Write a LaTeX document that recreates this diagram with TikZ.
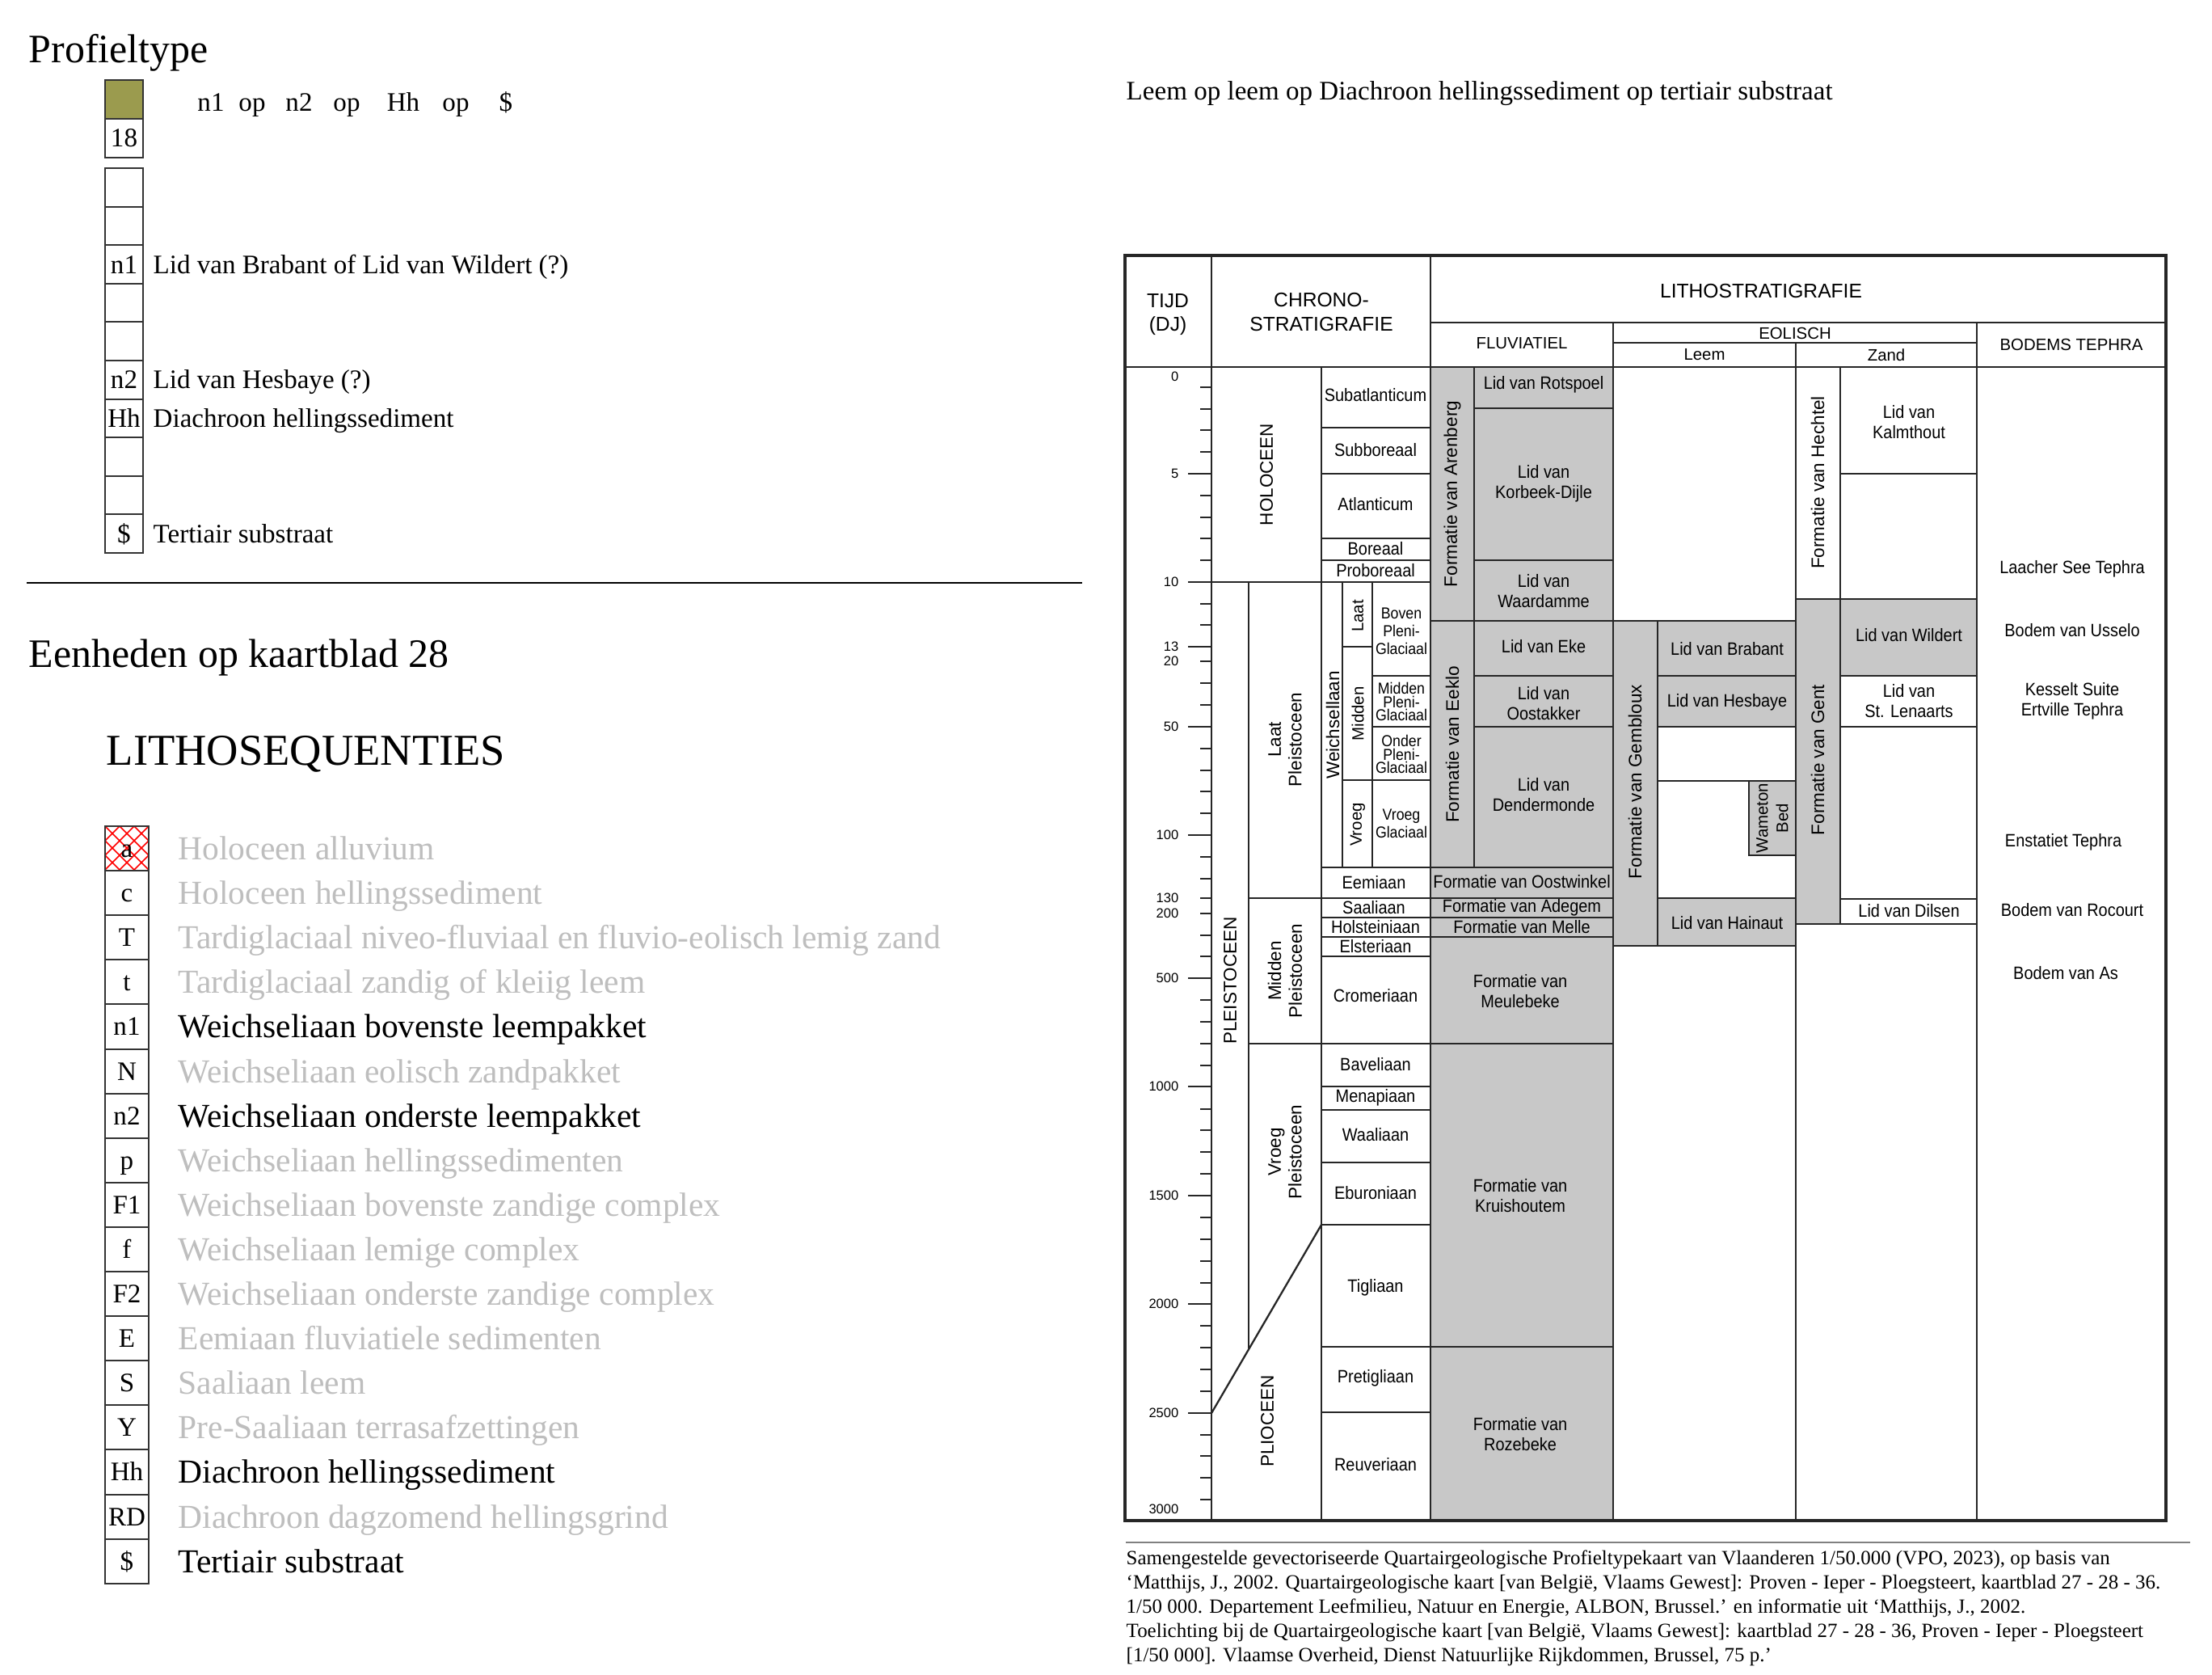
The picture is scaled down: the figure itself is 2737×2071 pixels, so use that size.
\documentclass[tikz,border=0pt]{standalone}
\usepackage{fontspec}
\setmainfont{Liberation Serif}
\newfontfamily\chartfont{Liberation Sans}
\newfontfamily\narrowfont[FakeStretch=0.9]{Liberation Sans}
\usepackage{tikz}
\usetikzlibrary{positioning}

\definecolor{olivebox}{RGB}{155,155,78}
\definecolor{unitgray}{RGB}{200,200,200}
\definecolor{faded}{RGB}{190,190,190}

\begin{document}
\begin{tikzpicture}[x=0.01cm, y=-0.01cm,
  every node/.style={inner sep=0pt},
  heading/.style={font=\fontsize{14.2}{17}\selectfont, anchor=base west},
  legtext/.style={font=\fontsize{9.4}{11}\selectfont, anchor=base west},
  legcode/.style={font=\fontsize{9.4}{11}\selectfont, anchor=base},
  unitbox/.style={draw=black!80, line width=0.55pt},
  seqtext/.style={font=\fontsize{11.8}{14}\selectfont, anchor=base west},
  cell/.style={draw=black!85, line width=0.65pt, fill=white},
  gunit/.style={cell, fill=unitgray},
  tick/.style={draw=black!85, line width=0.65pt},
  hdr/.style={font=\chartfont\fontsize{7}{8.5}\selectfont, align=center},
  subhdr/.style={font=\chartfont\fontsize{5.8}{7}\selectfont},
  lbl/.style={font=\narrowfont\fontsize{6.3}{7.1}\selectfont, align=center},
  pleni/.style={font=\narrowfont\fontsize{5.6}{6.2}\selectfont, align=center},
  vlbl/.style={font=\chartfont\fontsize{6.4}{7.3}\selectfont, align=center, rotate=90},
  age/.style={font=\chartfont\fontsize{4.7}{5}\selectfont, anchor=east},
]
\useasboundingbox (0,0) rectangle (2737,2071);

% profieltype
\node[heading] (profieltype) at (35,77) {Profieltype};
\filldraw[unitbox, fill=olivebox] (130,99) rectangle (177,147);
\draw[unitbox] (130,147) rectangle (177,195);
\node[legcode] (nr18) at (153.5,181) {18};
\foreach \i in {0,...,9}
  \draw[unitbox] (130,{208+47.6*\i}) rectangle (177,{208+47.6*(\i+1)});
\foreach \x/\t [count=\k] in {261/n1,312/op,370/n2,429/op,499/Hh,564/op,626/\$}
  \node[legcode] (seq\k) at (\x,137) {\t};
\foreach \i/\c/\t in {2/n1/{Lid van Brabant of Lid van Wildert (?)},
    5/n2/{Lid van Hesbaye (?)}, 6/Hh/{Diachroon hellingssediment},
    9/\$/{Tertiair substraat}} {
  \node[legcode] (pc\i) at (153.5,{208+47.6*(\i+.5)+11}) {\c};
  \node[legtext] (pt\i) at (189,{208+47.6*(\i+.5)+11}) {\t};
}

\draw[line width=0.75pt] (33,721) -- (1339,721);

% eenheden
\node[heading] (eenheden) at (35,825) {Eenheden op kaartblad 28};
\node[heading, font=\fontsize{15.5}{18}\selectfont] (lithoseq) at (131,946) {LITHOSEQUENTIES};

\begin{scope}
  \clip (130,1022) rectangle (184,1077.1);
  \foreach \k in {-4,...,7} {
    \draw[red, line width=0.45pt] (130+18*\k,1022) -- ++(60,60);
    \draw[red, line width=0.45pt] (130+18*\k,1022) -- ++(-60,60);
  }
\end{scope}
\foreach \i/\c/\t/\k in {0/a/Holoceen alluvium/faded,
    1/c/Holoceen hellingssediment/faded,
    2/T/Tardiglaciaal niveo-fluviaal en fluvio-eolisch lemig zand/faded,
    3/t/Tardiglaciaal zandig of kleiig leem/faded,
    4/n1/Weichseliaan bovenste leempakket/black,
    5/N/Weichseliaan eolisch zandpakket/faded,
    6/n2/Weichseliaan onderste leempakket/black,
    7/p/Weichseliaan hellingssedimenten/faded,
    8/F1/Weichseliaan bovenste zandige complex/faded,
    9/f/Weichseliaan lemige complex/faded,
    10/F2/Weichseliaan onderste zandige complex/faded,
    11/E/Eemiaan fluviatiele sedimenten/faded,
    12/S/Saaliaan leem/faded,
    13/Y/Pre-Saaliaan terrasafzettingen/faded,
    14/Hh/Diachroon hellingssediment/black,
    15/RD/Diachroon dagzomend hellingsgrind/faded,
    16/\$/Tertiair substraat/black} {
  \draw[unitbox] (130,{1022+55.1*\i}) rectangle (184,{1022+55.1*(\i+1)});
  \node[legcode] (sc\i) at (157,{1022+55.1*(\i+.5)+11}) {\c};
  \node[seqtext, text=\k] (st\i) at (220,{1022+55.1*(\i+.5)+14}) {\t};
}

% stratigrafische tabel
\node[legtext] (charttitle) at (1393,123) {Leem op leem op Diachroon hellingssediment op tertiair substraat};

\draw[cell] (1392,316) rectangle (1499,454);
\draw[cell] (1499,316) rectangle (1770,454);
\draw[cell] (1770,316) rectangle (2680,399);
\draw[cell] (1770,399) rectangle (1996,454);
\draw[cell] (1996,399) rectangle (2446,424);
\draw[cell] (1996,424) rectangle (2222,454);
\draw[cell] (2222,424) rectangle (2446,454);
\draw[cell] (2446,399) rectangle (2680,454);
\draw[cell] (1392,454) rectangle (1499,1881);
\draw[cell] (1499,454) rectangle (1770,1881);
\draw[cell] (1996,454) rectangle (2222,1881);
\draw[cell] (2222,454) rectangle (2446,1881);
\draw[cell] (2446,454) rectangle (2680,1881);

% chronostratigrafie
\draw[cell] (1499,454) rectangle (1635,720);
\foreach \a/\b in {454/529,529/586,586/666,666/693,693/720,1073/1111,1111/1135,
    1135/1159,1159/1183,1183/1291,1291/1344,1344/1373,1373/1438,1438/1515,
    1515/1666,1666/1747,1747/1881}
  \draw[cell] (1635,\a) rectangle (1770,\b);
\draw[cell] (1545,720) rectangle (1635,1111);
\draw[cell] (1545,1111) rectangle (1635,1291);
\draw[tick] (1545,1291) -- (1545,1668);
\draw[tick] (1499,1748) -- (1635,1515);
\draw[cell] (1635,720) rectangle (1661,1073);
\draw[cell] (1661,720) rectangle (1698,800);
\draw[cell] (1661,800) rectangle (1698,965);
\draw[cell] (1661,965) rectangle (1698,1073);
\draw[cell] (1698,720) rectangle (1770,836);
\draw[cell] (1698,836) rectangle (1770,899);
\draw[cell] (1698,899) rectangle (1770,965);
\draw[cell] (1698,965) rectangle (1770,1073);

% fluviatiel
\draw[gunit] (1770,454) rectangle (1824,768);
\draw[gunit] (1824,454) rectangle (1996,505);
\draw[gunit] (1824,505) rectangle (1996,693);
\draw[gunit] (1824,693) rectangle (1996,768);
\draw[gunit] (1770,768) rectangle (1824,1073);
\draw[gunit] (1824,768) rectangle (1996,836);
\draw[gunit] (1824,836) rectangle (1996,899);
\draw[gunit] (1824,899) rectangle (1996,1073);
\foreach \a/\b in {1073/1111,1111/1135,1135/1159,1159/1291,1291/1666,1666/1881}
  \draw[gunit] (1770,\a) rectangle (1996,\b);

% eolisch leem
\draw[gunit] (1996,768) rectangle (2051,1170);
\draw[gunit] (2051,768) rectangle (2222,836);
\draw[gunit] (2051,836) rectangle (2222,899);
\draw[cell] (2051,899) rectangle (2222,966);
\draw[cell] (2051,966) rectangle (2222,1111);
\draw[gunit] (2164,966) rectangle (2222,1058);
\draw[gunit] (2051,1111) rectangle (2222,1170);

% eolisch zand
\draw[cell] (2222,454) rectangle (2277,741);
\draw[cell] (2277,454) rectangle (2446,586);
\draw[cell] (2277,586) rectangle (2446,741);
\draw[gunit] (2222,741) rectangle (2277,1143);
\draw[gunit] (2277,741) rectangle (2446,836);
\draw[cell] (2277,836) rectangle (2446,899);
\draw[cell] (2277,899) rectangle (2446,1112);
\draw[cell] (2277,1112) rectangle (2446,1143);

% tijdschaal
\foreach \y in {586,720,800,899,1033,1210,1344,1479,1613,1748}
  \draw[tick] (1470,\y) -- (1499,\y);
\foreach \y in {479,506,532,559,613,640,666,693,747,773,818,845,872,926,953,979,
    1006,1060,1087,1111,1130,1157,1183,1237,1264,1291,1318,1372,1398,1425,1452,
    1506,1533,1560,1587,1640,1667,1694,1721,1775,1801,1828,1855}
  \draw[tick] (1485,\y) -- (1499,\y);
\draw[tick] (1499,720) -- (1545,720);
\foreach \y/\a in {466/0,586/5,720/10,800/13,818/20,899/50,1033/100,1111/130,
    1130/200,1210/500,1344/1000,1479/1500,1613/2000,1748/2500,1867/3000}
  \node[age] (age\a) at (1459,\y) {\a};

\draw[black!85, line width=0.9pt] (1392,316) rectangle (2680,1881);

% koppen
\node[hdr] (tijd) at (1445,389) {TIJD\\(DJ)};
\node[hdr] (chrono) at (1635,386) {CHRONO-\\STRATIGRAFIE};
\node[hdr] (litho) at (2179,360) {LITHOSTRATIGRAFIE};
\node[subhdr] (fluviatiel) at (1883,425) {FLUVIATIEL};
\node[subhdr] (eolisch) at (2221,412) {EOLISCH};
\node[subhdr] (leem) at (2109,439) {Leem};
\node[subhdr] (zand) at (2334,439) {Zand};
\node[subhdr] (tephrakop) at (2563,426) {BODEMS TEPHRA};

% chrono teksten
\node[vlbl] (holoceen) at (1567,587) {HOLOCEEN};
\node[vlbl] (pleistoceen) at (1522,1213) {PLEISTOCEEN};
\node[vlbl] (laatpl) at (1590,915) {Laat\\Pleistoceen};
\node[vlbl] (middenpl) at (1590,1201) {Midden\\Pleistoceen};
\node[vlbl] (vroegpl) at (1590,1425) {Vroeg\\Pleistoceen};
\node[vlbl] (plioceen) at (1568,1758) {PLIOCEEN};
\node[vlbl] (weichsel) at (1649,897) {Weichsellaan};
\node[vlbl, font=\chartfont\fontsize{5.8}{7}\selectfont] (wlaat) at (1680,762) {Laat};
\node[vlbl, font=\chartfont\fontsize{5.8}{7}\selectfont] (wmidden) at (1680,883) {Midden};
\node[vlbl, font=\chartfont\fontsize{5.8}{7}\selectfont] (wvroeg) at (1680,1020) {Vroeg};
\node[pleni] (bovenpg) at (1734,781) {Boven\\Pleni-\\Glaciaal};
\node[pleni, font=\narrowfont\fontsize{5.6}{4.7}\selectfont] (middenpg) at (1734,868) {Midden\\Pleni-\\Glaciaal};
\node[pleni, font=\narrowfont\fontsize{5.6}{4.7}\selectfont] (onderpg) at (1734,933) {Onder\\Pleni-\\Glaciaal};
\node[pleni] (vroeggl) at (1734,1019) {Vroeg\\Glaciaal};
\node[lbl] (subatl) at (1702,489) {Subatlanticum};
\node[lbl] (subbor) at (1702,557) {Subboreaal};
\node[lbl] (atlant) at (1702,624) {Atlanticum};
\node[lbl] (boreaal) at (1702,679) {Boreaal};
\node[lbl] (probor) at (1702,706) {Proboreaal};
\node[lbl] (eemiaan) at (1700,1092) {Eemiaan};
\node[lbl] (saaliaan) at (1700,1123) {Saaliaan};
\node[lbl] (holstein) at (1702,1147) {Holsteiniaan};
\node[lbl] (elster) at (1702,1171) {Elsteriaan};
\node[lbl] (cromer) at (1702,1232) {Cromeriaan};
\node[lbl] (bavel) at (1702,1317) {Baveliaan};
\node[lbl] (menap) at (1702,1358) {Menapiaan};
\node[lbl] (waal) at (1702,1404) {Waaliaan};
\node[lbl] (eburon) at (1702,1476) {Eburoniaan};
\node[lbl] (tiglia) at (1702,1593) {Tigliaan};
\node[lbl] (pretig) at (1702,1705) {Pretigliaan};
\node[lbl] (reuver) at (1702,1812) {Reuveriaan};

% fluviatiele eenheden
\node[vlbl] (arenberg) at (1797,611) {Formatie van Arenberg};
\node[vlbl] (eeklo) at (1797,921) {Formatie van Eeklo};
\node[lbl] (rotspoel) at (1910,476) {Lid van Rotspoel};
\node[lbl] (korbeek) at (1910,598) {Lid van\\Korbeek-Dijle};
\node[lbl] (waardamme) at (1910,731) {Lid van\\Waardamme};
\node[lbl] (eke) at (1910,800) {Lid van Eke};
\node[lbl] (oostakker) at (1910,870) {Lid van\\Oostakker};
\node[lbl] (dendermonde) at (1910,983) {Lid van\\Dendermonde};
\node[lbl] (oostwinkel) at (1883,1091) {Formatie van Oostwinkel};
\node[lbl] (adegem) at (1883,1123) {Formatie van Adegem};
\node[lbl] (melle) at (1883,1147) {Formatie van Melle};
\node[lbl] (meulebeke) at (1881,1226) {Formatie van\\Meulebeke};
\node[lbl] (kruishoutem) at (1881,1479) {Formatie van\\Kruishoutem};
\node[lbl] (rozebeke) at (1881,1774) {Formatie van\\Rozebeke};

% eolische eenheden
\node[vlbl] (gembloux) at (2023,967) {Formatie van Gembloux};
\node[lbl] (brabant) at (2137,803) {Lid van Brabant};
\node[lbl] (hesbaye) at (2137,869) {Lid van Hesbaye};
\node[vlbl, font=\chartfont\fontsize{5.8}{7.1}\selectfont] (wameton) at (2193,1012) {Wameton\\Bed};
\node[lbl] (hainaut) at (2137,1142) {Lid van Hainaut};
\node[vlbl] (hechtel) at (2249,597) {Formatie van Hechtel};
\node[vlbl] (gent) at (2249,940) {Formatie van Gent};
\node[lbl] (kalmthout) at (2362,522) {Lid van\\Kalmthout};
\node[lbl] (wildert) at (2362,786) {Lid van Wildert};
\node[lbl] (stlenaarts) at (2362,867) {Lid van\\St. Lenaarts};
\node[lbl] (dilsen) at (2362,1127) {Lid van Dilsen};

% bodems en tephra
\node[lbl] (laacher) at (2564,704) {Laacher See Tephra};
\node[lbl] (usselo) at (2564,780) {Bodem van Usselo};
\node[lbl] (kesselt) at (2564,867) {Kesselt Suite\\Ertville Tephra};
\node[lbl] (enstatiet) at (2553,1042) {Enstatiet Tephra};
\node[lbl] (rocourt) at (2564,1126) {Bodem van Rocourt};
\node[lbl] (bodemas) at (2556,1204) {Bodem van As};

% bron
\draw[gray, line width=0.6pt] (1393,1908) -- (2710,1908);
\node[anchor=north west, align=left, font=\fontsize{7.1}{8.56}\selectfont] (bron) at (1393,1917)
  {Samengestelde gevectoriseerde Quartairgeologische Profieltypekaart van Vlaanderen 1/50.000 (VPO, 2023), op basis van\\
   ‘Matthijs, J., 2002. Quartairgeologische kaart {[}van België, Vlaams Gewest{]}: Proven - Ieper - Ploegsteert, kaartblad 27 - 28 - 36.\\
   1/50 000. Departement Leefmilieu, Natuur en Energie, ALBON, Brussel.’ en informatie uit ‘Matthijs, J., 2002.\\
   Toelichting bij de Quartairgeologische kaart {[}van België, Vlaams Gewest{]}: kaartblad 27 - 28 - 36, Proven - Ieper - Ploegsteert\\
   {[}1/50 000{]}. Vlaamse Overheid, Dienst Natuurlijke Rijkdommen, Brussel, 75 p.’};
\end{tikzpicture}
\end{document}
